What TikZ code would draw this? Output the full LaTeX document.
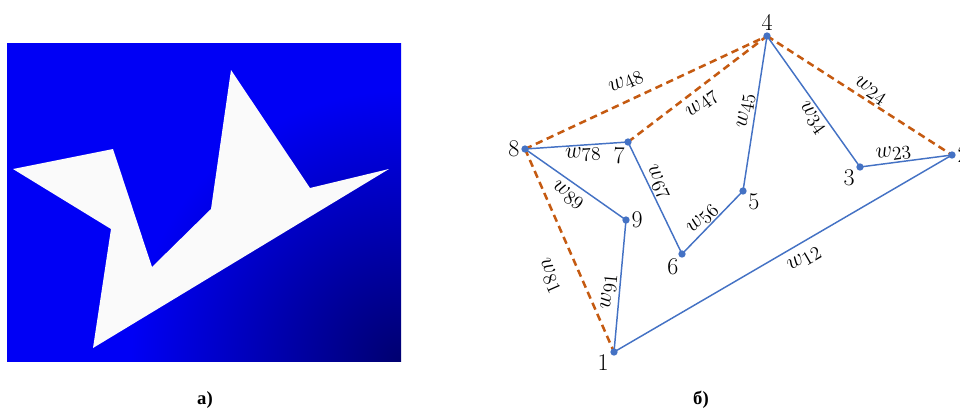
\documentclass[tikz,border=0pt]{standalone}
\usepackage{fontspec}
\newfontfamily\capfont{Liberation Serif}
\definecolor{edgeblue}{HTML}{4472C4}
\definecolor{cutorange}{HTML}{C55A11}
\definecolor{imgblue}{HTML}{0000F5}
\definecolor{imgdark}{HTML}{000070}
\pgfdeclareradialshading{cornerglow}{\pgfpoint{0cm}{0cm}}{color(0bp)=(imgdark); color(13bp)=(imgblue); color(50bp)=(imgblue)}

\begin{document}
\begin{tikzpicture}[
  x=0.75pt, y=-0.75pt,
  edge/.style={draw=edgeblue, line width=1.1pt},
  cut/.style={draw=cutorange, line width=1.9pt, dash pattern=on 5.5pt off 3.5pt},
  vtx/.style={circle, fill=edgeblue, inner sep=0pt, minimum size=5.5pt},
  num/.style={font=\fontsize{18}{18}\selectfont, inner sep=1pt},
  wl/.style={font=\fontsize{19}{19}\selectfont, inner sep=0pt, sloped},
  captext/.style={font=\capfont\bfseries\fontsize{14}{14}\selectfont}
]
\useasboundingbox (0,0) rectangle (960,408);

% --- a) image of the shape ---
\begin{scope}
  \clip (7,43) rectangle (401,361);
  \shade[shading=cornerglow] (401,361) circle (520);
\end{scope}
\fill[white!98!black] (13,169) -- (113,149) -- (152,267) -- (211,209) -- (231,70)
  -- (310,188) -- (389,169) -- (93,348) -- (111,229) -- cycle;

% --- b) graph of the contour ---
\coordinate (p1) at (614,352);
\coordinate (p2) at (952,155);
\coordinate (p3) at (860,167);
\coordinate (p4) at (767,36);
\coordinate (p5) at (743,191);
\coordinate (p6) at (682,254);
\coordinate (p7) at (628,142);
\coordinate (p8) at (525,149);
\coordinate (p9) at (626,220);

% dashed chords
\draw[cut] (p8) -- node[wl, pos=.45, above=7pt] {$w_{48}$} (p4);
\draw[cut] (p7) -- node[wl, pos=.47, below=5pt] {$w_{47}$} (p4);
\draw[cut] (p4) -- node[wl, pos=.53, above=1pt] {$w_{24}$} (p2);
\draw[cut] (p8) -- node[wl, pos=.57, below=15pt] {$w_{81}$} (p1);

% contour edges
\draw[edge] (p1) -- node[wl, pos=.54, below=6pt] {$w_{12}$} (p2);
\draw[edge] (p3) -- node[wl, pos=.38, above=1pt] {$w_{23}$} (p2);
\draw[edge] (p4) -- node[wl, pos=.58, below=2pt] {$w_{34}$} (p3);
\draw[edge] (p5) -- node[wl, pos=.51, above=1pt] {$w_{45}$} (p4);
\draw[edge] (p6) -- node[wl, pos=.45, above=1pt] {$w_{56}$} (p5);
\draw[edge] (p7) -- node[wl, pos=.40, above=1pt] {$w_{67}$} (p6);
\draw[edge] (p8) -- node[wl, pos=.56, below=1pt] {$w_{78}$} (p7);
\draw[edge] (p8) -- node[wl, pos=.50, below=4pt] {$w_{89}$} (p9);
\draw[edge] (p1) -- node[wl, pos=.45, above=2pt] {$w_{91}$} (p9);

% vertices
\node[vtx, label={[num]195:\oldstylenums{1}}] (v1) at (p1) {};
\node[vtx, label={[num]0:\oldstylenums{2}}] (v2) at (p2) {};
\node[vtx, label={[num]200:\oldstylenums{3}}] (v3) at (p3) {};
\node[vtx, label={[num]90:\oldstylenums{4}}] (v4) at (p4) {};
\node[vtx, label={[num]-15:\oldstylenums{5}}] (v5) at (p5) {};
\node[vtx, label={[num]240:\oldstylenums{6}}] (v6) at (p6) {};
\node[vtx, label={[num]245:\oldstylenums{7}}] (v7) at (p7) {};
\node[vtx, label={[num]180:\oldstylenums{8}}] (v8) at (p8) {};
\node[vtx, label={[num]0:\oldstylenums{9}}] (v9) at (p9) {};

% --- captions ---
\node[captext] (capa) at (205,400) {а)};
\node[captext] (capb) at (701,400) {б)};

\end{tikzpicture}
\end{document}
